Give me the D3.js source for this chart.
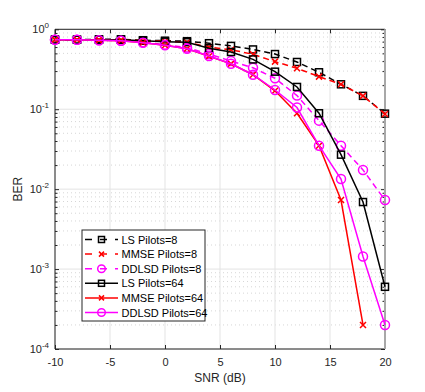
<!DOCTYPE html>
<html>
<head>
<meta charset="utf-8">
<script src="https://cdn.jsdelivr.net/npm/d3@7"></script>
<style>
body{margin:0;background:#fff;}
svg{display:block;font-family:"Liberation Sans",Arial,Helvetica,sans-serif;}
</style>
</head>
<body>
<svg id="chart" width="425" height="392"></svg>
<script>
const snr = [-10,-8,-6,-4,-2,0,2,4,6,8,10,12,14,16,18,20];
const snrMmse64 = [-10,-8,-6,-4,-2,0,2,4,6,8,10,12,14,16,18];
const lsP8    = [0.74,0.74,0.75,0.75,0.73,0.72,0.71,0.67,0.62,0.56,0.49,0.39,0.29,0.205,0.147,0.088];
const mmseP8  = [0.74,0.74,0.74,0.74,0.72,0.71,0.69,0.60,0.555,0.487,0.394,0.325,0.256,0.205,0.147,0.087];
const ddlsdP8 = [0.74,0.74,0.73,0.72,0.69,0.64,0.59,0.49,0.40,0.33,0.244,0.148,0.072,0.035,0.0174,0.0073];
const lsP64   = [0.74,0.74,0.74,0.74,0.72,0.70,0.69,0.58,0.52,0.42,0.295,0.19,0.089,0.027,0.0069,0.0006];
const mmseP64 = [0.74,0.74,0.73,0.72,0.68,0.63,0.57,0.46,0.37,0.27,0.17,0.089,0.035,0.0073,0.0002];
const ddlsdP64= [0.74,0.74,0.73,0.72,0.68,0.63,0.57,0.464,0.37,0.27,0.174,0.105,0.035,0.0134,0.00144,0.0002];
const xTicks = [-10,-5,0,5,10,15,20];
const yTickExps = [0,-1,-2,-3,-4];
const seriesNames = ["LS Pilots=8","MMSE Pilots=8","DDLSD Pilots=8","LS Pilots=64","MMSE Pilots=64","DDLSD Pilots=64"];

const series = [
  {name:seriesNames[0], x:snr, y:lsP8, color:"#000000", dash:"6,4", marker:"square"},
  {name:seriesNames[1], x:snr, y:mmseP8, color:"#ff0000", dash:"6,4", marker:"x"},
  {name:seriesNames[2], x:snr, y:ddlsdP8, color:"#ff00ff", dash:"6,4", marker:"circle"},
  {name:seriesNames[3], x:snr, y:lsP64, color:"#000000", dash:null, marker:"square"},
  {name:seriesNames[4], x:snrMmse64, y:mmseP64, color:"#ff0000", dash:null, marker:"x"},
  {name:seriesNames[5], x:snr, y:ddlsdP64, color:"#ff00ff", dash:null, marker:"circle"}
];

const L=55, R=385, T=29.3, B=349;
const svg = d3.select("#chart");
const x = d3.scaleLinear().domain([-10,20]).range([L,R]);
const y = d3.scaleLog().domain([1e-4,1]).range([B,T]);

// grid
const g = svg.append("g");
// minor y grid (dotted)
const minors=[];
for(let e=-4;e<0;e++) for(let k=2;k<=9;k++) minors.push(k*Math.pow(10,e));
g.selectAll(".ymin").data(minors).enter().append("line")
  .attr("x1",L).attr("x2",R).attr("y1",d=>y(d)).attr("y2",d=>y(d))
  .attr("stroke","#d6d6d6").attr("stroke-width",1).attr("stroke-dasharray","1,3");
// major grids
g.selectAll(".ymaj").data(yTickExps.map(e=>Math.pow(10,e))).enter().append("line")
  .attr("x1",L).attr("x2",R).attr("y1",d=>y(d)).attr("y2",d=>y(d))
  .attr("stroke","#e3e3e3").attr("stroke-width",1);
g.selectAll(".xmaj").data(xTicks).enter().append("line")
  .attr("x1",d=>x(d)).attr("x2",d=>x(d)).attr("y1",T).attr("y2",B)
  .attr("stroke","#e3e3e3").attr("stroke-width",1);

// axes with ticks
const axB = d3.axisBottom(x).tickValues(xTicks).tickSize(-4).tickPadding(9).tickFormat(d3.format("d"));
const axT = d3.axisTop(x).tickValues(xTicks).tickSize(-4).tickFormat("");
const axLeft = d3.axisLeft(y).tickValues(yTickExps.map(e=>Math.pow(10,e))).tickSize(-4).tickFormat("");
const axRight = d3.axisRight(y).tickValues(yTickExps.map(e=>Math.pow(10,e))).tickSize(-4).tickFormat("");
const axLeftMin = d3.axisLeft(y).tickValues(minors).tickSize(-2.5).tickFormat("");
const axRightMin = d3.axisRight(y).tickValues(minors).tickSize(-2.5).tickFormat("");

function style(sel){
  sel.select(".domain").remove();
  sel.selectAll(".tick line").attr("stroke","#262626");
  sel.selectAll(".tick text").attr("fill","#262626").attr("font-size","11px");
}
svg.append("g").attr("transform",`translate(0,${B})`).call(axB).call(style)
   .selectAll(".tick text").text(d=>d<0?"-"+Math.abs(d):d);
svg.append("g").attr("transform",`translate(0,${T})`).call(axT).call(style);
svg.append("g").attr("transform",`translate(${L},0)`).call(axLeft).call(style);
svg.append("g").attr("transform",`translate(${R},0)`).call(axRight).call(style);
svg.append("g").attr("transform",`translate(${L},0)`).call(axLeftMin).call(style);
svg.append("g").attr("transform",`translate(${R},0)`).call(axRightMin).call(style);

// y tick labels 10^e
const yl = svg.append("g");
yTickExps.forEach(e=>{
  const t = yl.append("text").attr("x",L-6).attr("y",y(Math.pow(10,e))+4)
    .attr("text-anchor","end").attr("fill","#262626").attr("font-size","11px");
  t.append("tspan").text("10");
  t.append("tspan").attr("dy",-5).attr("font-size","8px").text(String(e).replace("-","-"));
});

// box
svg.append("line").attr("x1",L).attr("x2",R).attr("y1",T).attr("y2",T).attr("stroke","#262626").attr("stroke-width",1);
svg.append("line").attr("x1",L).attr("x2",R).attr("y1",B).attr("y2",B).attr("stroke","#262626").attr("stroke-width",1);
svg.append("line").attr("x1",L).attr("x2",L).attr("y1",T).attr("y2",B).attr("stroke","#262626").attr("stroke-width",1);
svg.append("line").attr("x1",R).attr("x2",R).attr("y1",T).attr("y2",B).attr("stroke","#a8a8a8").attr("stroke-width",2);

// axis labels
svg.append("text").attr("x",(L+R)/2).attr("y",382).attr("text-anchor","middle")
  .attr("fill","#262626").attr("font-size","12px").text("SNR (dB)");
svg.append("text").attr("transform",`translate(22,${(T+B)/2}) rotate(-90)`).attr("text-anchor","middle")
  .attr("fill","#262626").attr("font-size","12px").text("BER");

// markers
function drawMarker(sel, type, color){
  if(type==="square"){
    sel.append("rect").attr("x",-3.5).attr("y",-3.5).attr("width",7).attr("height",7)
      .attr("fill","none").attr("stroke",color).attr("stroke-width",1.5);
  } else if(type==="circle"){
    sel.append("circle").attr("r",4.5).attr("fill","none").attr("stroke",color).attr("stroke-width",1.5);
  } else {
    sel.append("path").attr("d","M-3,-3L3,3M-3,3L3,-3").attr("stroke",color).attr("stroke-width",1.5);
  }
}

const line = d3.line().x(d=>x(d[0])).y(d=>y(d[1]));
const plot = svg.append("g");
series.forEach(s=>{
  const pts = s.x.map((v,i)=>[v,s.y[i]]);
  const sg = plot.append("g");
  sg.append("path").datum(pts).attr("d",line).attr("fill","none")
    .attr("stroke",s.color).attr("stroke-width",1.5)
    .attr("stroke-dasharray",s.dash);
  pts.forEach(p=>{
    const m = sg.append("g").attr("transform",`translate(${x(p[0])},${y(p[1])})`);
    drawMarker(m,s.marker,s.color);
  });
});

// legend
const lg = svg.append("g");
lg.append("rect").attr("x",82).attr("y",230).attr("width",123).attr("height",91)
  .attr("fill","#fff").attr("stroke","#262626").attr("stroke-width",1);
series.forEach((s,i)=>{
  const yy = 239.5 + i*14.6;
  lg.append("line").attr("x1",85).attr("x2",118).attr("y1",yy).attr("y2",yy)
    .attr("stroke",s.color).attr("stroke-width",1.5).attr("stroke-dasharray",s.dash?"7,8":null);
  const m = lg.append("g").attr("transform",`translate(101.5,${yy})`);
  if(s.marker==="circle"){
    m.append("circle").attr("r",3.8).attr("fill","none").attr("stroke",s.color).attr("stroke-width",1.5);
  } else if(s.marker==="square"){
    m.append("rect").attr("x",-3).attr("y",-3).attr("width",6).attr("height",6).attr("fill","none").attr("stroke",s.color).attr("stroke-width",1.5);
  } else {
    m.append("path").attr("d","M-2.5,-2.5L2.5,2.5M-2.5,2.5L2.5,-2.5").attr("stroke",s.color).attr("stroke-width",1.5);
  }
  lg.append("text").attr("x",121.5).attr("y",yy+4).attr("font-size","11px").attr("fill","#000").text(s.name);
});
</script>
</body>
</html>
